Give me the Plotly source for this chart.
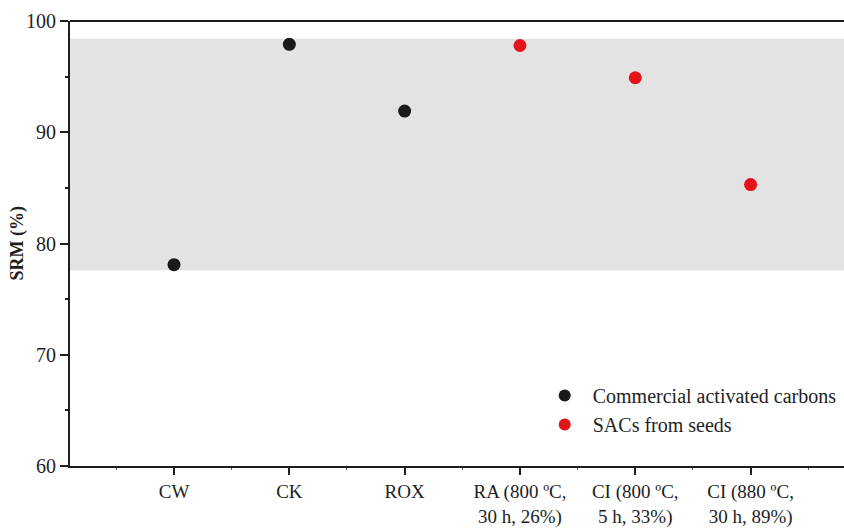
import plotly.graph_objects as go

# Sorbents and their SRM values (%)
commercial_labels = ["CW", "CK", "ROX"]
commercial_srm = [78.1, 97.9, 91.9]

seed_labels = ["RA (800 ºC,<br>30 h, 26%)", "CI (800 ºC,<br>5 h, 33%)", "CI (880 ºC,<br>30 h, 89%)"]
seed_srm = [97.8, 94.9, 85.3]

# Shaded reference band (SRM %)
band_low, band_high = 77.6, 98.4

all_labels = commercial_labels + seed_labels
commercial_x = list(range(1, len(commercial_labels) + 1))
seed_x = list(range(len(commercial_labels) + 1, len(all_labels) + 1))

FONT = "Liberation Serif"
INK = "#1e1e1e"

fig = go.Figure()

fig.add_shape(type="rect", xref="paper", yref="y", x0=0, x1=1,
              y0=band_low, y1=band_high, fillcolor="#e3e3e3",
              line=dict(width=0), layer="below")
# top frame line
fig.add_shape(type="line", xref="paper", yref="paper", x0=0, x1=1, y0=1, y1=1,
              line=dict(color=INK, width=2), layer="above")

fig.add_trace(go.Scatter(
    x=commercial_x, y=commercial_srm, mode="markers",
    name="Commercial activated carbons",
    marker=dict(size=13, color="#1a1a1a"),
))
fig.add_trace(go.Scatter(
    x=seed_x, y=seed_srm, mode="markers",
    name="SACs from seeds",
    marker=dict(size=13, color="#e3131b"),
))

fig.add_annotation(
    text="<b>SRM (%)</b>", textangle=-90,
    xref="paper", yref="paper", x=(17 - 70) / 774, y=0.5,
    xanchor="center", yanchor="middle", showarrow=False,
    font=dict(family=FONT, size=18, color=INK),
)

fig.update_layout(
    width=844, height=530,
    margin=dict(l=70, r=0, t=21, b=64),
    paper_bgcolor="white", plot_bgcolor="white",
    font=dict(family=FONT, size=20, color=INK),
    showlegend=True,
    legend=dict(x=0.603, y=0.126, xanchor="left", yanchor="middle",
                bgcolor="rgba(0,0,0,0)", font=dict(size=20, color=INK),
                itemsizing="constant", itemwidth=46, tracegroupgap=0),
)

fig.update_xaxes(
    range=[0.098, 6.81],
    tickmode="array", tickvals=list(range(1, len(all_labels) + 1)),
    ticktext=all_labels,
    showgrid=False, zeroline=False,
    showline=True, linecolor=INK, linewidth=2, mirror=False,
    ticks="outside", ticklen=7, tickwidth=1.5, tickcolor=INK,
    minor=dict(ticks="outside", ticklen=2, tickwidth=1, tickcolor="#666",
               dtick=0.5, tick0=0.5),
    tickfont=dict(family=FONT, size=19, color=INK),
)

fig.update_yaxes(
    range=[60, 100], dtick=10,
    showgrid=False, zeroline=False,
    showline=True, linecolor=INK, linewidth=2, mirror=False,
    ticks="outside", ticklen=8, tickwidth=1.5, tickcolor=INK,
    minor=dict(ticks="outside", ticklen=3, tickwidth=1.5, tickcolor=INK, dtick=5),
    tickfont=dict(family=FONT, size=20, color=INK),
)

fig.write_html("out.html")
